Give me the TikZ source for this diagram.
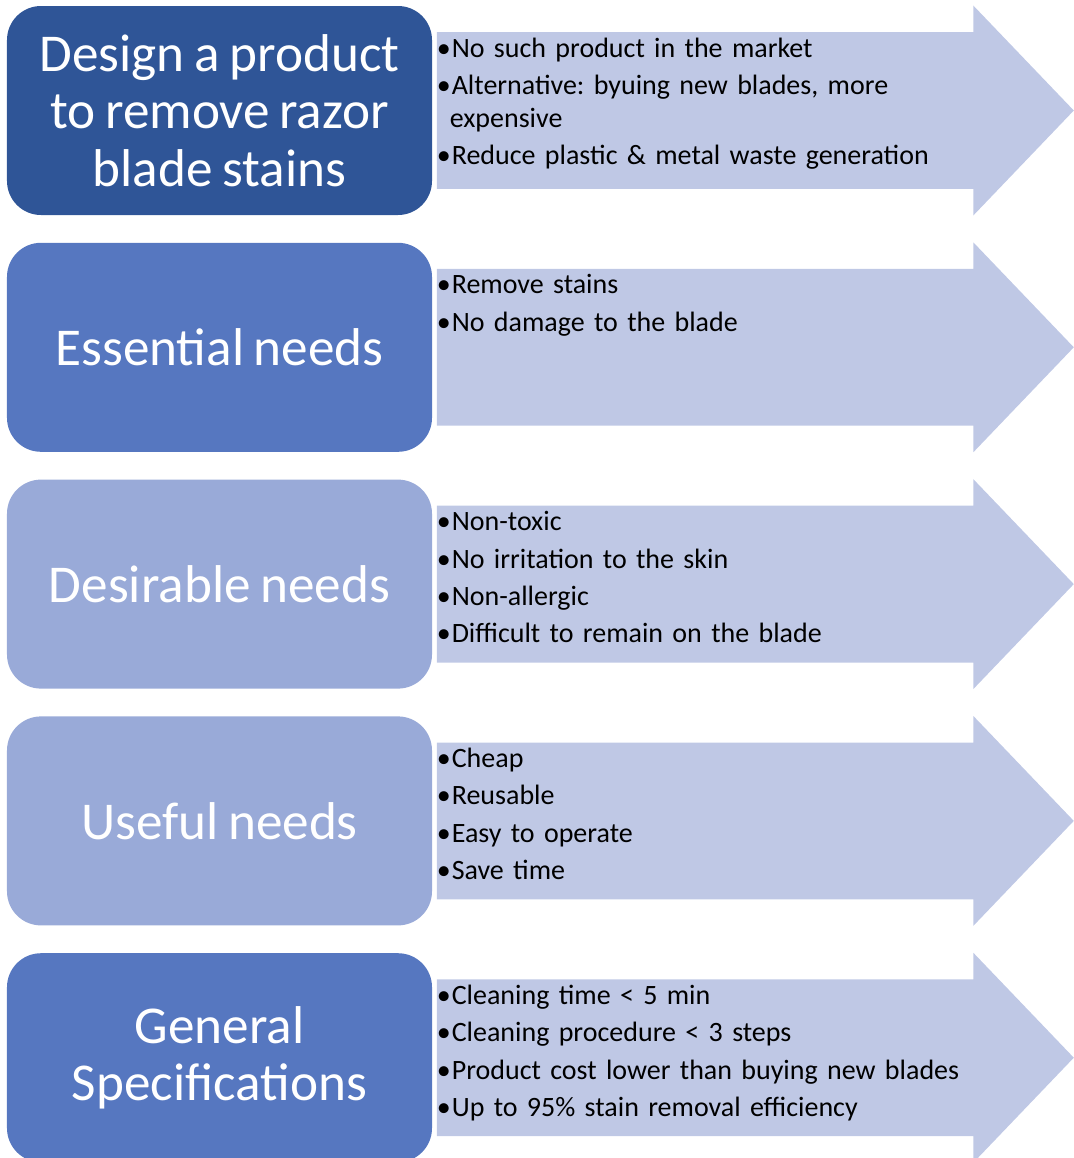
\documentclass[tikz,border=0pt]{standalone}
\usepackage{fontspec}
\setmainfont{Carlito}[WordSpace=0.8]
\frenchspacing
\usetikzlibrary{shapes,positioning}
\definecolor{darkblue}{RGB}{47,85,151}
\definecolor{midblue}{RGB}{86,119,192}
\definecolor{paleblue}{RGB}{153,170,216}
\definecolor{arrowblue}{RGB}{191,200,229}
\tikzstyle{need} = [rounded corners=17pt, minimum width=212.5pt, minimum height=104.5pt,
    text=white, align=center, inner sep=0pt, font=\fontsize{26.6}{28.75}\selectfont]
\tikzstyle{flow} = [single arrow, fill=arrowblue, minimum height=318.5pt, inner xsep=0pt, inner ysep=39pt,
    single arrow head extend=13.25pt, single arrow tip angle=92.5, single arrow head indent=0pt]
\tikzstyle{bullets} = [anchor=base west, align=left, text width=262pt, inner sep=0pt,
    font=\fontsize{14}{18.7}\selectfont]
\newcommand{\bul}{\makebox[7.5pt][l]{•}}

\begin{document}
\begin{tikzpicture}[node distance=13.5pt]
  \useasboundingbox (-109.75pt,-523.75pt) rectangle (426.75pt,55.25pt);

  \node[need, fill=darkblue] (problem) {Design a product\\to remove razor\\blade stains};
  \node[need, fill=midblue, below=of problem] (essential) {Essential needs};
  \node[need, fill=paleblue, below=of essential] (desirable) {Desirable needs};
  \node[need, fill=paleblue, below=of desirable] (useful) {Useful needs};
  \node[need, fill=midblue, below=of useful] (specs) {General\\Specifications};

  \foreach \n in {problem,essential,desirable,useful,specs}
    \node[flow, anchor=tail] (\n_arrow) at ([xshift=2pt]\n.east) {};

  \node[bullets] (problem_list) at ([xshift=0pt,yshift=26.75pt]problem_arrow.tail)
    {\bul No such product in the market\\
     \bul Alternative: byuing new blades, more\\[-2.2pt]
     \hspace*{6.5pt}expensive\\
     \bul Reduce plastic \& metal waste generation};
  \node[bullets] (essential_list) at ([xshift=0pt,yshift=26.75pt]essential_arrow.tail)
    {\bul Remove stains\\
     \bul No damage to the blade};
  \node[bullets] (desirable_list) at ([xshift=0pt,yshift=26.75pt]desirable_arrow.tail)
    {\bul Non-toxic\\
     \bul No irritation to the skin\\
     \bul Non-allergic\\
     \bul Difficult to remain on the blade};
  \node[bullets] (useful_list) at ([xshift=0pt,yshift=26.75pt]useful_arrow.tail)
    {\bul Cheap\\
     \bul Reusable\\
     \bul Easy to operate\\
     \bul Save time};
  \node[bullets] (specs_list) at ([xshift=0pt,yshift=26.75pt]specs_arrow.tail)
    {\bul Cleaning time < 5 min\\
     \bul Cleaning procedure < 3 steps\\
     \bul Product cost lower than buying new blades\\
     \bul Up to 95\% stain removal efficiency};
\end{tikzpicture}
\end{document}
